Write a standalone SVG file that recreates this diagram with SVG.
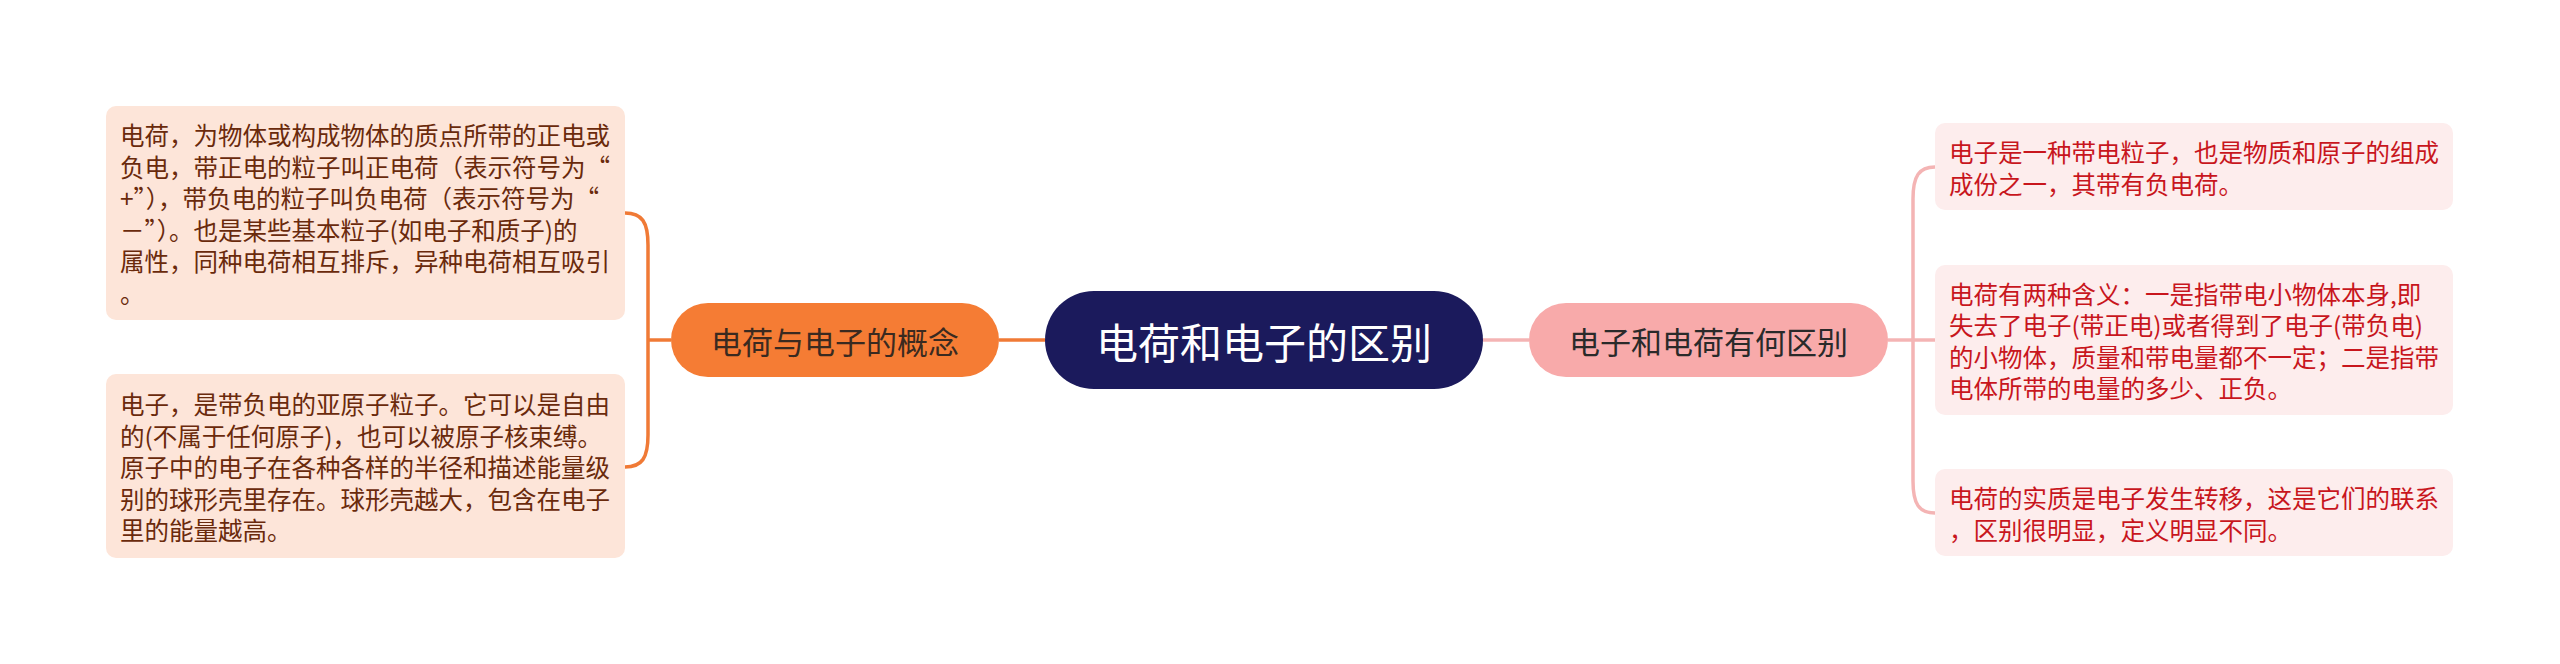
<svg xmlns="http://www.w3.org/2000/svg" width="2560" height="664" viewBox="0 0 2560 664">
<style>
text{font-family:"Noto Sans CJK SC","Noto Sans",sans-serif;dominant-baseline:central}
.lc{fill:none;stroke:#f07a36;stroke-width:3.5}
.rc{fill:none;stroke:#f4b4b4;stroke-width:3.5}
.lbox{fill:#fde5d9}
.rbox{fill:#fdeded}
.lt{font-size:24.5px;fill:#6a2a0c}
.rt{font-size:24.5px;fill:#c8161d}
</style>
<rect width="2560" height="664" fill="#ffffff"/>
<g id="connectors">
<path class="lc" d="M1045 340H999"/>
<path class="lc" d="M671 340H648"/>
<path class="lc" d="M625 213C642 213 648 222 648 245V435C648 458 642 467 625 467"/>
<path class="rc" d="M1483 340H1529"/>
<path class="rc" d="M1888 340H1935"/>
<path class="rc" d="M1935 167C1919 167 1913 176 1913 199V481C1913 504 1919 513 1935 513"/>
</g>
<g id="center">
<rect x="1045" y="291" width="438" height="98" rx="49" fill="#1b1a5c"/>
<text x="1264" y="340" font-size="42" fill="#ffffff" text-anchor="middle">电荷和电子的区别</text>
</g>
<g id="branch-left">
<rect x="671" y="303" width="328" height="74" rx="37" fill="#f57c34"/>
<text x="835" y="340" font-size="31" fill="#3a2a20" text-anchor="middle">电荷与电子的概念</text>
</g>
<g id="branch-right">
<rect x="1529" y="303" width="359" height="74" rx="37" fill="#f8aaaa"/>
<text x="1708.5" y="340" font-size="31" fill="#2a2a2a" text-anchor="middle">电子和电荷有何区别</text>
</g>
<g id="left-box-1">
<rect class="lbox" x="106" y="106" width="519" height="214" rx="10"/>
<text class="lt" x="120"><tspan x="120" y="134">电荷，为物体或构成物体的质点所带的正电或</tspan><tspan x="120" y="165.5">负电，带正电的粒子叫正电荷（表示符号为“</tspan><tspan x="120" y="197">+”），带负电的粒子叫负电荷（表示符号为“</tspan><tspan x="120" y="228.5">－”）。也是某些基本粒子(如电子和质子)的</tspan><tspan x="120" y="260">属性，同种电荷相互排斥，异种电荷相互吸引</tspan><tspan x="120" y="291.5">。</tspan></text>
</g>
<g id="left-box-2">
<rect class="lbox" x="106" y="374" width="519" height="184" rx="10"/>
<text class="lt" x="120"><tspan x="120" y="403">电子，是带负电的亚原子粒子。它可以是自由</tspan><tspan x="120" y="434.5">的(不属于任何原子)，也可以被原子核束缚。</tspan><tspan x="120" y="466">原子中的电子在各种各样的半径和描述能量级</tspan><tspan x="120" y="497.5">别的球形壳里存在。球形壳越大，包含在电子</tspan><tspan x="120" y="529">里的能量越高。</tspan></text>
</g>
<g id="right-box-1">
<rect class="rbox" x="1935" y="123" width="518" height="87" rx="10"/>
<text class="rt" x="1949"><tspan x="1949" y="151">电子是一种带电粒子，也是物质和原子的组成</tspan><tspan x="1949" y="182.5">成份之一，其带有负电荷。</tspan></text>
</g>
<g id="right-box-2">
<rect class="rbox" x="1935" y="265" width="518" height="150" rx="10"/>
<text class="rt" x="1949"><tspan x="1949" y="292.5">电荷有两种含义：一是指带电小物体本身,即</tspan><tspan x="1949" y="324">失去了电子(带正电)或者得到了电子(带负电)</tspan><tspan x="1949" y="355.5">的小物体，质量和带电量都不一定；二是指带</tspan><tspan x="1949" y="387">电体所带的电量的多少、正负。</tspan></text>
</g>
<g id="right-box-3">
<rect class="rbox" x="1935" y="469" width="518" height="87" rx="10"/>
<text class="rt" x="1949"><tspan x="1949" y="497">电荷的实质是电子发生转移，这是它们的联系</tspan><tspan x="1949" y="528.5">，区别很明显，定义明显不同。</tspan></text>
</g>
</svg>
